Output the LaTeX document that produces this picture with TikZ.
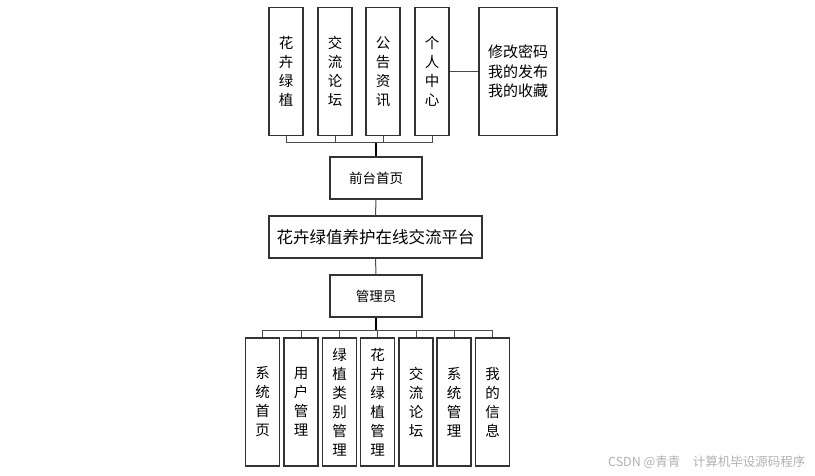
\documentclass[tikz,border=0pt]{standalone}
\usepackage{fontspec}
\setmainfont{Noto Sans CJK SC}
\usetikzlibrary{positioning}
\definecolor{edge}{HTML}{333333}
\definecolor{wire}{HTML}{4A4A4A}

\begin{document}
\begin{tikzpicture}[x=1pt,y=-1pt,
 box/.style={draw=edge,line width=1.1pt,inner sep=0pt,align=center},
 col/.style={box,minimum width=34pt,minimum height=128pt,font=\fontsize{14.5}{19}\selectfont},
 hub/.style={box,minimum width=92pt,minimum height=42pt,font=\fontsize{13.5}{16}\selectfont},
 wire/.style={draw=wire,line width=1pt},
 trunk/.style={draw=black,line width=1.3pt}]
\useasboundingbox[fill=white] (0,0) rectangle (815,476);

% front end
\foreach \n/\x/\t in {1/286/{花\\卉\\绿\\植},2/335/{交\\流\\论\\坛},3/383/{公\\告\\资\\讯},4/432/{个\\人\\中\\心}}
  \node[col] (t\n) at (\x,71.5) {\t};
\node[box,minimum width=78pt,minimum height=128pt,font=\fontsize{15}{19.5}\selectfont] (t5) at (518,71.5) {修改密码\\我的发布\\我的收藏};
\node[hub] (front) at (376,178) {前台首页};
\node[box,minimum width=213pt,minimum height=42pt,font=\fontsize{16.5}{20}\selectfont] (plat) at (375.5,237) {花卉绿值养护在线交流平台};
\node[hub] (admin) at (376,296) {管理员};

% back end
\foreach \n/\x/\t in {1/262.5/{系\\统\\首\\页},2/301/{用\\户\\管\\理},3/339.5/{绿\\植\\类\\别\\管\\理},4/377.5/{花\\卉\\绿\\植\\管\\理},5/416/{交\\流\\论\\坛},6/454/{系\\统\\管\\理},7/492.5/{我\\的\\信\\息}}
  \node[col] (b\n) at (\x,402) {\t};

\coordinate (tbus) at (376,143);
\coordinate (bbus) at (376,330);
\foreach \n in {1,...,4}
  \draw[wire] (t\n.south) |- (tbus);
\draw[wire] (t4.east) -- (t5.west);
\draw[trunk] (tbus) -- (front.north);
\draw[wire] (front.south) -- (plat.north);
\draw[wire] (plat.south) -- (admin.north);
\draw[trunk] (admin.south) -- (bbus);
\foreach \n in {1,...,7}
  \draw[wire] (b\n.north) |- (bbus);

\node[anchor=east,text=black!30,font=\fontsize{12.5}{14}\selectfont] (mark) at (809,462) {CSDN @青青\quad 计算机毕设源码程序};
\end{tikzpicture}
\end{document}
